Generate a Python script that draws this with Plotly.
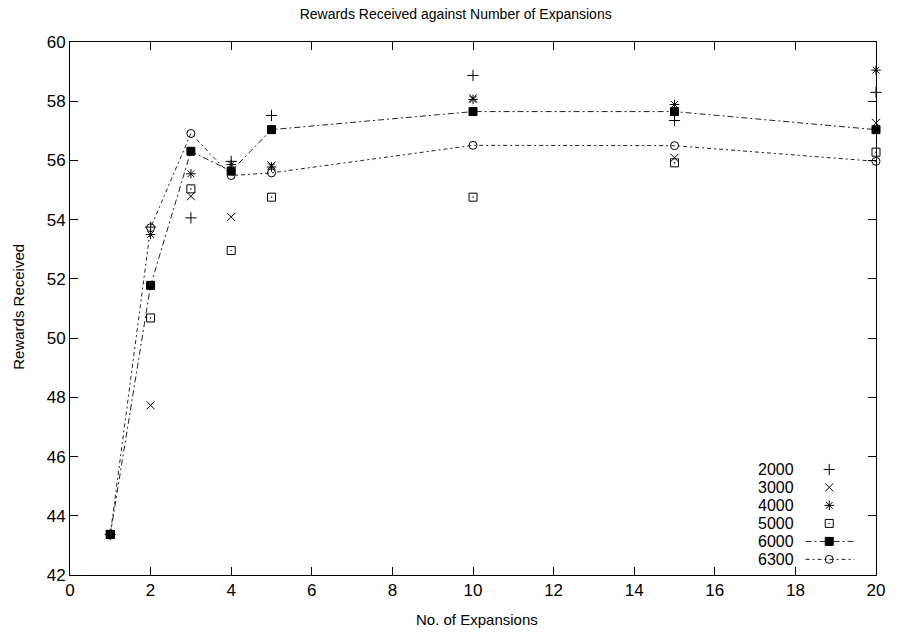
import plotly.graph_objects as go

# Number of expansions (x) and rewards received for each run size
expansions = [1, 2, 3, 4, 5, 10, 15, 20]

series_names = ["2000", "3000", "4000", "5000", "6000", "6300"]
rewards_2000 = [43.37, 53.75, 54.06, 55.97, 57.52, 58.87, 57.35, 58.30]
rewards_3000 = [43.37, 47.73, 54.79, 54.09, 55.83, 58.10, 56.09, 57.27]
rewards_4000 = [43.37, 53.50, 55.55, 55.86, 55.78, 58.06, 57.89, 59.05]
rewards_5000 = [43.37, 50.68, 55.04, 52.96, 54.76, 54.76, 55.92, 56.28]
rewards_6000 = [43.37, 51.78, 56.31, 55.64, 57.04, 57.65, 57.65, 57.04]
rewards_6300 = [43.37, 53.73, 56.91, 55.49, 55.58, 56.51, 56.50, 55.97]

x_ticks = [0, 2, 4, 6, 8, 10, 12, 14, 16, 18, 20]
y_ticks = [42, 44, 46, 48, 50, 52, 54, 56, 58, 60]

FONT = "Liberation Sans, Arial, Helvetica, sans-serif"
INK = "black"

# per-series styling: (marker symbol, line dash or None for points only)
styles = {
    "2000": ("cross-thin-open", None),
    "3000": ("x-thin-open", None),
    "4000": ("asterisk-open", None),
    "5000": ("square-open-dot", None),
    "6000": ("square", "6px,3px,2px,3px"),
    "6300": ("circle-open", "4px,3px,2px,3px"),
}
values = {
    "2000": rewards_2000,
    "3000": rewards_3000,
    "4000": rewards_4000,
    "5000": rewards_5000,
    "6000": rewards_6000,
    "6300": rewards_6300,
}

fig = go.Figure()

for name in series_names:
    symbol, dash = styles[name]
    mode = "lines+markers" if dash else "markers"
    fig.add_trace(go.Scatter(
        x=expansions, y=values[name], mode=mode, name=name,
        showlegend=False,
        line=dict(color="#222222", width=1, dash=dash) if dash else None,
        marker=dict(symbol=symbol, size=8, color=INK,
                    line=dict(color=INK, width=1)),
        cliponaxis=False,
    ))

# Key in the lower right: label text on the left, sample on the right
key_rows = [0.198, 0.1643, 0.1306, 0.0968, 0.0630, 0.0293]
key_text_x = 0.899
key_mark_x = 0.942
key_line = [0.9126, 0.973]
annotations = []
for name, ky in zip(series_names, key_rows):
    symbol, dash = styles[name]
    annotations.append(dict(
        text=name, x=key_text_x, y=ky, xref="paper", yref="paper",
        xanchor="right", yanchor="middle", showarrow=False, borderpad=0,
        font=dict(family=FONT, size=16, color=INK)))
    if dash:
        fig.add_trace(go.Scatter(
            x=key_line, y=[ky, ky], mode="lines", xaxis="x2", yaxis="y2",
            showlegend=False, hoverinfo="skip",
            line=dict(color="#222222", width=1, dash=dash)))
    fig.add_trace(go.Scatter(
        x=[key_mark_x], y=[ky], mode="markers", xaxis="x2", yaxis="y2",
        showlegend=False, hoverinfo="skip",
        marker=dict(symbol=symbol, size=8, color=INK,
                    line=dict(color=INK, width=1))))

annotations.append(dict(
    text="No. of Expansions", x=0.505, y=-0.0835, xref="paper", yref="paper",
    xanchor="center", yanchor="middle", showarrow=False,
    font=dict(family=FONT, size=15, color=INK)))
annotations.append(dict(
    text="Rewards Received", x=-0.064, y=0.504, xref="paper", yref="paper",
    xanchor="center", yanchor="middle", showarrow=False, textangle=-90,
    font=dict(family=FONT, size=15, color=INK)))

axis_common = dict(
    showgrid=False, zeroline=False, showline=True, linecolor=INK, linewidth=1,
    mirror="ticks", ticks="inside", ticklen=8, tickwidth=1, tickcolor=INK,
    tickfont=dict(family=FONT, size=17, color=INK),
)

fig.update_layout(
    width=897, height=635,
    margin=dict(l=70, r=15, t=42, b=60),
    paper_bgcolor="white", plot_bgcolor="white",
    title=dict(text="Rewards Received against Number of Expansions",
               x=0.508, y=1 - 14 / 635, xref="container", yref="container",
               xanchor="center", yanchor="middle",
               font=dict(family=FONT, size=14, color=INK)),
    xaxis=dict(range=[0, 20], tickvals=x_ticks, **axis_common),
    yaxis=dict(range=[42, 60], tickvals=y_ticks, **axis_common),
    xaxis2=dict(range=[0, 1], overlaying="x", visible=False, fixedrange=True),
    yaxis2=dict(range=[0, 1], overlaying="y", visible=False, fixedrange=True),
    annotations=annotations,
    showlegend=False,
)

fig.write_html("out.html")
